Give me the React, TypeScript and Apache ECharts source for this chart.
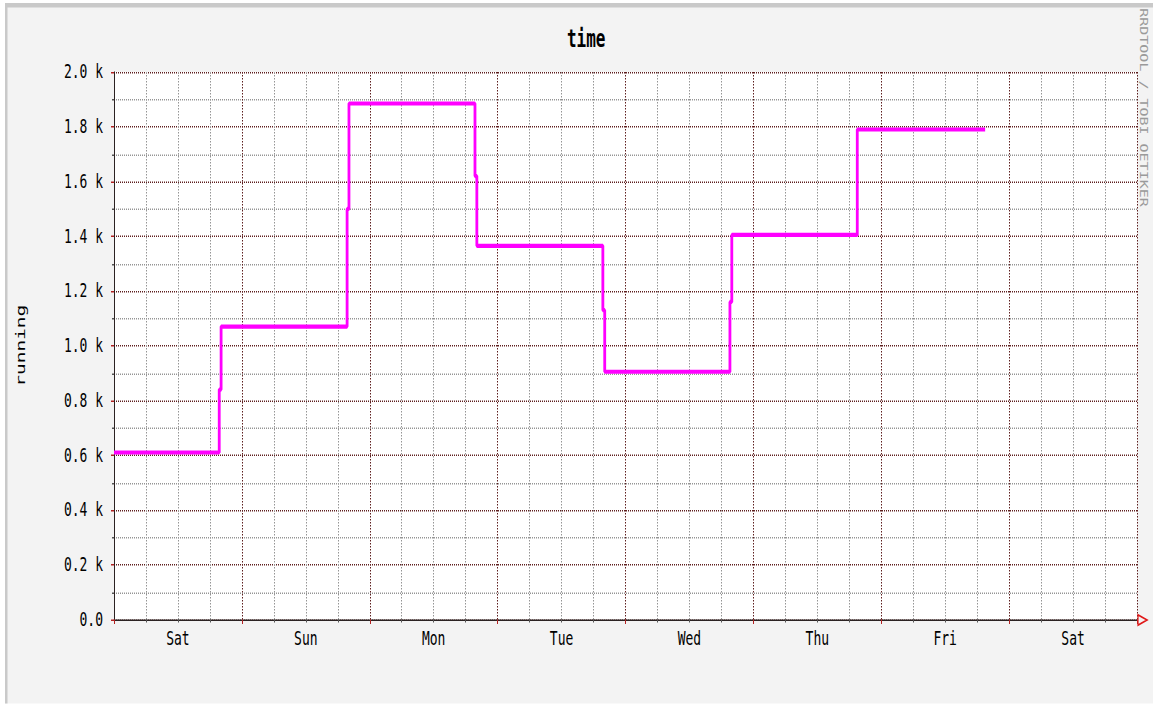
import React, { useEffect, useRef } from "react";
import * as echarts from "echarts";

// Vertical stretch of the whole drawing (rrdtool-style tall glyphs)
const K = 1.5;
const W = 1153;
const H = 704 / K;

// Time axis: hours since Saturday 00:00, eight days shown
const axisStartHour = 0;
const axisEndHour = 192;
const dayLabels = ["Sat", "Sun", "Mon", "Tue", "Wed", "Thu", "Fri", "Sat"];

// Level of "running" between changes
const levelValues = [610, 1070, 1885, 1365, 905, 1405, 1790];
// Hour at which each new level starts
const changeHours = [19.75, 43.75, 67.75, 91.75, 115.6, 139.5];
// Single consolidated sample caught mid-change (null where none shows)
const midSampleValues: (number | null)[] = [840, 1500, 1620, 1130, 1160, null];
const midSampleHours = 0.35;
const lastSampleHour = 163.5;

const FONT = "DejaVu Sans Mono";

function buildSeries(): [number, number][] {
  const pts: [number, number][] = [[axisStartHour, levelValues[0]]];
  changeHours.forEach((h, i) => {
    const mid = midSampleValues[i];
    if (mid != null) {
      pts.push([h, mid]);
      pts.push([h + midSampleHours, levelValues[i + 1]]);
    } else {
      pts.push([h, levelValues[i + 1]]);
    }
  });
  pts.push([lastSampleHour, levelValues[levelValues.length - 1]]);
  return pts;
}

export default function App() {
  const ref = useRef<HTMLDivElement>(null);

  useEffect(() => {
    if (!ref.current) return;
    const chart = echarts.init(ref.current, null, { renderer: "svg" });
    const gridLeft = 114;
    const gridRight = 16;
    const gridTop = 72 / K;
    const gridBottom = (704 - 620) / K;
    const axisY = H - gridBottom;
    const axisX1 = W - gridRight;

    const majorGrid = { color: "#5e1f1f", width: 1, type: "dotted" as const };
    const minorGrid = { color: "#959595", width: 1, type: "dotted" as const };

    chart.setOption({
      animation: false,
      backgroundColor: "transparent",
      title: {
        text: "time",
        left: 562,
        top: 13,
        textStyle: { fontFamily: FONT, fontSize: 16, fontWeight: "bold", color: "#000" },
      },
      grid: {
        left: gridLeft,
        right: gridRight,
        top: gridTop,
        bottom: gridBottom,
        show: true,
        backgroundColor: "#ffffff",
        borderWidth: 0,
      },
      graphic: [
        {
          type: "rect",
          z: -10,
          silent: true,
          shape: { x: 5, y: 2, width: W - 5, height: H - 2 },
          style: { fill: "#f3f3f3" },
        },
        {
          type: "rect",
          z: -9,
          silent: true,
          shape: { x: 5, y: 2, width: W - 5, height: 3 },
          style: { fill: "#c9c9c9" },
        },
        {
          type: "rect",
          z: -9,
          silent: true,
          shape: { x: 5, y: 2, width: 2.5, height: H - 2 },
          style: { fill: "#c9c9c9" },
        },
        {
          type: "polygon",
          z: 10,
          silent: true,
          shape: {
            points: [
              [axisX1 + 1, axisY - 3.4],
              [axisX1 + 10, axisY],
              [axisX1 + 1, axisY + 3.4],
            ],
          },
          style: { fill: "none", stroke: "#e01818", lineWidth: 1.2 },
        },
        {
          type: "text",
          z: 10,
          silent: true,
          x: 1144,
          y: 5.5,
          rotation: -Math.PI / 2,
          style: {
            text: "RRDTOOL / TOBI OETIKER",
            fontFamily: FONT,
            fontSize: 10,
            fill: "#9a9a9a",
            align: "left",
            verticalAlign: "middle",
          },
        },
      ],
      xAxis: [
        {
          type: "value",
          min: axisStartHour,
          max: axisEndHour,
          interval: 24,
          position: "bottom",
          axisLine: { show: true, lineStyle: { color: "#2b2222", width: 1 } },
          axisTick: { show: true, length: 3, lineStyle: { color: "#b22222" } },
          minorTick: { show: true, splitNumber: 4, length: 2, lineStyle: { color: "#555" } },
          axisLabel: { show: false },
          splitLine: { show: true, lineStyle: majorGrid },
          minorSplitLine: { show: true, lineStyle: minorGrid },
        },
        {
          type: "value",
          min: axisStartHour,
          max: axisEndHour,
          interval: 12,
          position: "bottom",
          axisLine: { show: false },
          axisTick: { show: false },
          splitLine: { show: false },
          axisLabel: {
            show: true,
            margin: 6,
            fontFamily: FONT,
            fontSize: 13,
            color: "#000",
            formatter: (v: number) =>
              v % 24 === 12 ? dayLabels[Math.floor(v / 24)] : "",
          },
        },
      ],
      yAxis: {
        type: "value",
        min: 0,
        max: 2000,
        interval: 200,
        name: "running",
        nameLocation: "middle",
        nameRotate: 90,
        nameGap: 87,
        nameTextStyle: { fontFamily: FONT, fontSize: 13, color: "#000" },
        axisLine: { show: true, lineStyle: { color: "#2b2222", width: 1 } },
        axisTick: { show: true, length: 3, lineStyle: { color: "#b22222" } },
        minorTick: { show: true, splitNumber: 2, length: 2, lineStyle: { color: "#555" } },
        axisLabel: {
          margin: 11,
          fontFamily: FONT,
          fontSize: 13,
          color: "#000",
          formatter: (v: number) => (v === 0 ? "0.0" : (v / 1000).toFixed(1) + " k"),
        },
        splitLine: { show: true, lineStyle: majorGrid },
        minorSplitLine: { show: true, lineStyle: minorGrid },
      },
      series: [
        {
          type: "line",
          name: "running",
          xAxisIndex: 0,
          step: "end",
          symbol: "none",
          data: buildSeries(),
          lineStyle: { color: "#ff00ff", width: 2.8 },
          z: 5,
        },
      ],
    });
    return () => chart.dispose();
  }, []);

  return (
    <div
      style={{
        position: "fixed",
        left: 0,
        top: 0,
        width: W,
        height: 704,
        background: "#ffffff",
        overflow: "hidden",
      }}
    >
      <div
        ref={ref}
        style={{
          width: W,
          height: H,
          transform: `scaleY(${K})`,
          transformOrigin: "0 0",
        }}
      />
    </div>
  );
}
